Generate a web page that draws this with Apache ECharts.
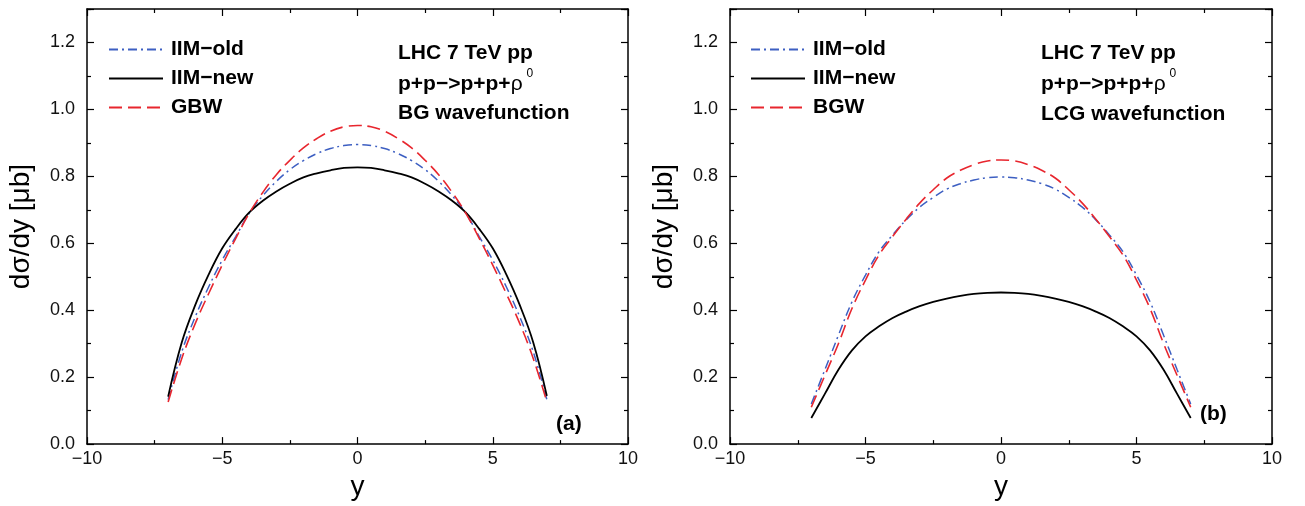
<!DOCTYPE html>
<html>
<head>
<meta charset="utf-8">
<script src="https://cdn.jsdelivr.net/npm/echarts@6/dist/echarts.min.js"></script>
<style>
  html, body { margin: 0; padding: 0; background: #fff; }
  #chart { width: 1305px; height: 506px; }
</style>
</head>
<body>
<div id="chart"></div>
<script>
  // rapidity grid, shared by all curves
  const rapidity = [-7, -6.5, -6, -5.5, -5, -4.5, -4, -3.5, -3, -2.5, -2, -1.5, -1, -0.5, 0,
      0.5, 1, 1.5, 2, 2.5, 3, 3.5, 4, 4.5, 5, 5.5, 6, 6.5, 7]

  // panel (a) - BG wavefunction
  const aIimOld = [0.133, 0.275, 0.38, 0.47, 0.55, 0.62, 0.69, 0.742, 0.785, 0.82, 0.847, 0.868, 0.883, 0.892, 0.895,
      0.892, 0.883, 0.868, 0.847, 0.82, 0.785, 0.742, 0.69, 0.62, 0.55, 0.47, 0.38, 0.275, 0.133]
  const aIimNew = [0.142, 0.303, 0.415, 0.507, 0.585, 0.643, 0.692, 0.727, 0.755, 0.778, 0.797, 0.809, 0.818, 0.825, 0.827,
      0.825, 0.818, 0.809, 0.797, 0.778, 0.755, 0.727, 0.692, 0.643, 0.585, 0.507, 0.415, 0.303, 0.144]
  const aGbw = [0.126, 0.255, 0.36, 0.45, 0.535, 0.615, 0.69, 0.752, 0.805, 0.848, 0.885, 0.913, 0.935, 0.948, 0.952,
      0.948, 0.935, 0.913, 0.885, 0.848, 0.805, 0.752, 0.69, 0.615, 0.535, 0.45, 0.36, 0.255, 0.126]

  // panel (b) - LCG wavefunction
  const bIimOld = [0.12, 0.222, 0.325, 0.425, 0.505, 0.575, 0.625, 0.67, 0.708, 0.737, 0.762, 0.778, 0.789, 0.796, 0.798,
      0.796, 0.789, 0.778, 0.762, 0.737, 0.708, 0.67, 0.625, 0.575, 0.505, 0.425, 0.325, 0.222, 0.12]
  const bIimNew = [0.078, 0.15, 0.222, 0.28, 0.322, 0.352, 0.377, 0.396, 0.412, 0.425, 0.435, 0.443, 0.449, 0.452, 0.453,
      0.452, 0.449, 0.443, 0.435, 0.425, 0.412, 0.396, 0.377, 0.352, 0.322, 0.28, 0.222, 0.15, 0.078]
  const bBgw = [0.11, 0.205, 0.3, 0.405, 0.49, 0.565, 0.62, 0.672, 0.72, 0.76, 0.795, 0.818, 0.835, 0.846, 0.849,
      0.846, 0.835, 0.818, 0.795, 0.76, 0.72, 0.672, 0.62, 0.565, 0.49, 0.405, 0.3, 0.205, 0.11]

  const namesA = ['IIM\u2212old', 'IIM\u2212new', 'GBW']
  const namesB = ['IIM\u2212old', 'IIM\u2212new', 'BGW']

  const FONT = '"Liberation Sans", Arial, Helvetica, sans-serif'
  const BLUE = '#3d5fc2'
  const RED = '#e8262e'

  const pairs = vals => rapidity.map((x, i) => [x, vals[i]])

  function xAxis(grid, top) {
      return {
          type: 'value', gridIndex: grid, position: top ? 'top' : 'bottom',
          min: -10, max: 10, interval: 5,
          name: top ? '' : 'y', nameLocation: 'middle', nameGap: 22,
          nameTextStyle: { fontFamily: FONT, fontSize: 28, color: '#000' },
          axisLine: { show: true, onZero: false, lineStyle: { color: '#000', width: 1.5 } },
          axisTick: { show: true, inside: true, length: 7, lineStyle: { color: '#000', width: 1.2 } },
          minorTick: { show: true, splitNumber: 2, length: 4, lineStyle: { color: '#000', width: 1.2 } },
          axisLabel: {
              show: !top, margin: 6, fontFamily: FONT, fontSize: 18, color: '#111',
              formatter: v => String(v).replace('-', '\u2212')
          },
          splitLine: { show: false }
      }
  }

  function yAxis(grid, right) {
      return {
          type: 'value', gridIndex: grid, position: right ? 'right' : 'left',
          min: 0, max: 1.3, interval: 0.2,
          name: right ? '' : 'd\u03c3/dy [\u03bcb]', nameLocation: 'middle', nameGap: 52,
          nameTextStyle: { fontFamily: FONT, fontSize: 28, color: '#000' },
          axisLine: { show: true, onZero: false, lineStyle: { color: '#000', width: 1.5 } },
          axisTick: { show: true, inside: true, length: 7, lineStyle: { color: '#000', width: 1.2 } },
          minorTick: { show: true, splitNumber: 2, length: 4, lineStyle: { color: '#000', width: 1.2 } },
          axisLabel: {
              show: !right, margin: 12, showMaxLabel: false,
              fontFamily: FONT, fontSize: 18, color: '#111',
              formatter: v => v.toFixed(1)
          },
          splitLine: { show: false }
      }
  }

  function curve(name, vals, grid, color, type, width) {
      return {
          name: name, type: 'line', data: pairs(vals),
          xAxisIndex: grid * 2, yAxisIndex: grid * 2,
          smooth: 0.4, symbol: 'none', silent: true,
          lineStyle: { color: color, type: type, width: width },
          itemStyle: { color: color }
      }
  }

  function legend(names, left) {
      return {
          orient: 'vertical', left: left, top: 34,
          itemWidth: 54, itemHeight: 14, itemGap: 8, itemStyle: { opacity: 0 },
          textStyle: { fontFamily: FONT, fontSize: 21, fontWeight: 'bold', color: '#000', lineHeight: 20, padding: [0, 0, 0, 3] },
          data: names, selectedMode: false
      }
  }

  function note(x, lines) {
      const out = []
      lines.forEach(([text, y]) => {
          out.push({
              type: 'text', x: x, y: y,
              style: { text: text, fontFamily: FONT, fontSize: 21, fontWeight: 'bold', fill: '#000', verticalAlign: 'middle' }
          })
      })
      out.push({
          type: 'text', x: x, y: 84,
          style: {
              text: '{b|p+p\u2212>p+p+}{r|\u03c1}{s|0}', verticalAlign: 'middle',
              rich: {
                  b: { fontFamily: FONT, fontSize: 21, fontWeight: 'bold', fill: '#000', lineHeight: 32 },
                  r: { fontFamily: FONT, fontSize: 21, fill: '#000', lineHeight: 32 },
                  s: { fontFamily: FONT, fontSize: 12, fill: '#000', lineHeight: 10, verticalAlign: 'top', padding: [0, 0, 0, 4] }
              }
          }
      })
      return out
  }

  const chart = echarts.init(document.getElementById('chart'), null, { renderer: 'canvas' })

  chart.setOption({
      backgroundColor: '#fff',
      animation: false,
      grid: [
          { left: 87, top: 9, width: 541, bottom: 53.5 },
          { left: 730, top: 9, width: 542, bottom: 53.5 }
      ],
      xAxis: [xAxis(0, false), xAxis(0, true), xAxis(1, false), xAxis(1, true)],
      yAxis: [yAxis(0, false), yAxis(0, true), yAxis(1, false), yAxis(1, true)],
      legend: [legend(namesA, 103), legend(namesB, 745)],
      series: [
          curve(namesA[0], aIimOld, 0, BLUE, [9, 4, 2, 4], 1.5),
          curve(namesA[1], aIimNew, 0, '#000', 'solid', 1.8),
          curve(namesA[2], aGbw, 0, RED, [13, 6], 1.6),
          curve(namesB[0], bIimOld, 1, BLUE, [9, 4, 2, 4], 1.5),
          curve(namesB[1], bIimNew, 1, '#000', 'solid', 1.8),
          curve(namesB[2], bBgw, 1, RED, [13, 6], 1.6)
      ],
      graphic: [
          ...note(398, [['LHC 7 TeV pp', 53], ['BG wavefunction', 113]]),
          ...note(1041, [['LHC 7 TeV pp', 53], ['LCG wavefunction', 114]]),
          { type: 'text', x: 556, y: 424, style: { text: '(a)', fontFamily: FONT, fontSize: 21, fontWeight: 'bold', fill: '#000', verticalAlign: 'middle' } },
          { type: 'text', x: 1200, y: 414, style: { text: '(b)', fontFamily: FONT, fontSize: 21, fontWeight: 'bold', fill: '#000', verticalAlign: 'middle' } }
      ]
  })
</script>
</body>
</html>
